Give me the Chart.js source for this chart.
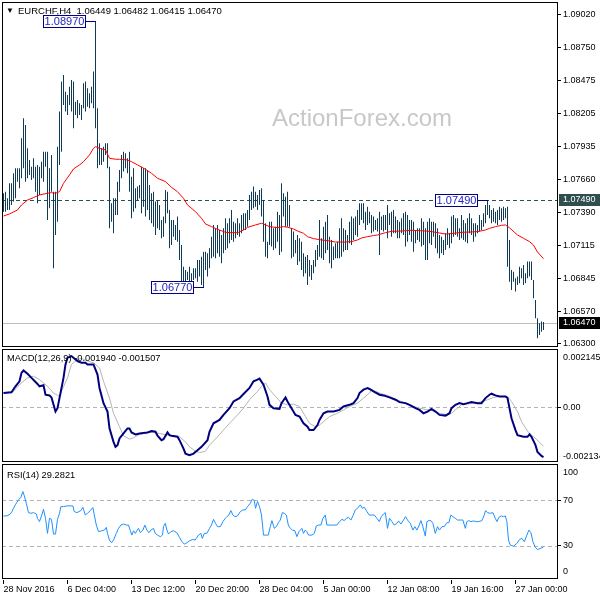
<!DOCTYPE html>
<html><head><meta charset="utf-8">
<script src="https://cdn.jsdelivr.net/npm/chart.js@4.4.0/dist/chart.umd.min.js"></script>
<style>
html,body{margin:0;padding:0;background:#fff;width:600px;height:600px;overflow:hidden}
canvas{position:absolute;left:0}
#c1{top:0}#c2{top:349px}#c3{top:464px}
</style></head><body>
<canvas id="c1" width="600" height="349"></canvas>
<canvas id="c2" width="600" height="115"></canvas>
<canvas id="c3" width="600" height="136"></canvas>
<script>
// ---------- DATA ----------
const symbolTitle = 'EURCHF,H4';
const lastBar = ['1.06449', '1.06482', '1.06415', '1.06470'];
const highs = [
1.07546,1.07559,1.07504,1.07628,1.07628,1.07711,1.07752,1.07752,1.07752,1.08000,
1.08166,1.08111,1.07918,1.07821,1.07766,1.07835,1.07766,1.07780,1.07766,1.07807,
1.07890,1.07890,1.07890,1.07752,1.07863,1.07559,1.07559,1.07931,1.08221,1.08469,
1.08524,1.08386,1.08359,1.08427,1.08483,1.08469,1.08303,1.08317,1.08290,1.08276,
1.08455,1.08469,1.08414,1.08372,1.08427,1.08552,1.08970,1.08248,1.07959,1.07918,
1.07931,1.07959,1.07959,1.07766,1.07463,1.07504,1.07504,1.07642,1.07739,1.07863,
1.07890,1.07876,1.07835,1.07890,1.07683,1.07752,1.07587,1.07601,1.07614,
1.07766,1.07752,1.07752,1.07739,1.07615,1.07546,1.07559,1.07477,1.07490,1.07449,
1.07325,1.07353,1.07573,1.07559,1.07408,1.07325,1.07325,1.07284,1.07353,1.07242,
1.07118,1.06939,1.06912,1.06898,1.06939,1.06884,1.06925,1.06925,1.06994,1.06994,
1.07022,1.07063,1.07063,1.07050,1.07091,1.07187,1.07284,1.07256,1.07284,1.07242,
1.07201,1.07256,1.07339,1.07298,1.07339,1.07408,1.07311,1.07298,1.07339,1.07298,
1.07367,1.07380,1.07380,1.07408,1.07532,1.07559,1.07601,1.07559,1.07532,1.07573,
1.07587,1.07490,1.07298,1.07146,1.07311,1.07311,1.07256,1.07270,1.07394,1.07367,
1.07628,1.07546,1.07518,1.07559,1.07449,1.07256,1.07229,1.07160,1.07201,1.07174,
1.07146,1.07050,1.07022,1.07036,1.06994,1.06953,1.06994,1.07077,1.07118,1.07325,
1.07174,1.07270,1.07311,1.07367,1.07187,1.07160,1.07105,1.07132,1.07146,1.07256,
1.07339,1.07256,1.07243,1.07201,1.07311,1.07353,1.07339,1.07353,1.07408,1.07463,
1.07463,1.07463,1.07394,1.07435,1.07394,1.07367,1.07353,1.07325,1.07339,1.07394,
1.07353,1.07367,1.07367,1.07449,1.07380,1.07394,1.07408,1.07353,1.07325,1.07311,
1.07339,1.07380,1.07394,1.07367,1.07325,1.07325,1.07311,1.07243,1.07256,1.07256,
1.07339,1.07311,1.07256,1.07311,1.07339,1.07311,1.07311,1.07298,1.07256,1.07201,
1.07187,1.07160,1.07215,1.07256,1.07215,1.07353,1.07367,1.07339,1.07339,1.07256,
1.07367,1.07325,1.07298,1.07339,1.07380,1.07339,1.07298,1.07298,1.07284,1.07367,
1.07325,1.07380,1.07449,1.07490,1.07449,1.07408,1.07422,1.07394,1.07408,1.07435,
1.07422,1.07435,1.07422,1.07435,1.07160,1.06912,1.06898,1.06843,1.06857,1.06939,
1.06926,1.06953,1.06884,1.06981,1.06981,1.06981,1.06829,1.06664,1.06512,1.06471,
1.06485,1.06482];
const lows = [
1.07394,1.07394,1.07408,1.07408,1.07449,1.07477,1.07504,1.07642,1.07587,1.07670,
1.07752,1.07642,1.07670,1.07697,1.07656,1.07670,1.07559,1.07463,1.07532,1.07670,
1.07642,1.07766,1.07325,1.07422,1.07559,1.06925,1.07201,1.07311,1.07780,1.07890,
1.08276,1.08221,1.08193,1.08276,1.08221,1.08083,1.08193,1.08166,1.08193,1.08152,
1.08248,1.08221,1.08262,1.08248,1.08290,1.08248,1.08083,1.07752,1.07780,1.07780,
1.07807,1.07863,1.07752,1.07256,1.07311,1.07215,1.07366,1.07366,1.07559,1.07670,
1.07725,1.07752,1.07711,1.07559,1.07339,1.07394,1.07422,1.07490,1.07504,
1.07380,1.07435,1.07353,1.07408,1.07325,1.07298,1.07270,1.07201,1.07256,1.07242,
1.07174,1.07187,1.07298,1.07380,1.07091,1.07118,1.07187,1.07160,1.07146,1.06994,
1.06801,1.06815,1.06788,1.06829,1.06801,1.06815,1.06829,1.06843,1.06815,1.06857,
1.06788,1.06770,1.06912,1.06857,1.06925,1.07008,1.07022,1.07008,1.07050,1.07022,
1.06967,1.07050,1.07077,1.07091,1.07132,1.07160,1.07146,1.07174,1.07201,1.07187,
1.07215,1.07242,1.07242,1.07270,1.07325,1.07408,1.07422,1.07435,1.07408,1.07449,
1.07353,1.07146,1.07022,1.07008,1.07118,1.07105,1.07077,1.07091,1.07146,1.07036,
1.07063,1.07353,1.07270,1.07270,1.07270,1.07008,1.07022,1.07050,1.06953,1.06981,
1.06912,1.06857,1.06884,1.06788,1.06857,1.06829,1.06884,1.06939,1.06994,1.07022,
1.07008,1.06994,1.07050,1.07077,1.06967,1.06926,1.06994,1.07008,1.07008,1.07008,
1.07022,1.07063,1.07077,1.07077,1.07132,1.07118,1.07160,1.07201,1.07187,1.07284,
1.07325,1.07298,1.07243,1.07284,1.07298,1.07215,1.07229,1.07243,1.07229,1.07036,
1.07243,1.07229,1.07243,1.07174,1.07284,1.07187,1.07215,1.07215,1.07174,1.07174,
1.07215,1.07201,1.07105,1.07146,1.07201,1.07146,1.07063,1.07132,1.07160,1.07146,
1.07105,1.07118,1.06994,1.06994,1.07132,1.07118,1.07187,1.07091,1.07050,1.07008,
1.07050,1.07036,1.07077,1.07118,1.07091,1.07132,1.07187,1.07201,1.07187,1.07160,
1.07174,1.07160,1.07146,1.07132,1.07215,1.07201,1.07146,1.07187,1.07215,1.07229,
1.07242,1.07270,1.07298,1.07367,1.07339,1.07298,1.07311,1.07298,1.07284,1.07325,
1.07311,1.07325,1.07339,1.06939,1.06815,1.06746,1.06815,1.06733,1.06788,1.06802,
1.06843,1.06788,1.06802,1.06843,1.06857,1.06829,1.06678,1.06512,1.06347,1.06374,
1.06402,1.06415];
const maX = [0,3,7,9,12,15,18,22,24,26,28,30,33,35,38,40,43,45,46,48,51,53,56,58,62,64,67,71,74,77,81,84,87,90,92,96,99,101,104,107,111,114,117,120,122,126,129,131,133,137,140,142,145,147,150,152,155,159,162,166,171,174,177,179,182,185,187,191,194,199,204,208,211,214,217,221,224,229,234,237,241,243,246,249,251,253,257,260,263,265,267,270];
const maY = [1.07358,1.07375,1.07408,1.07449,1.07490,1.07510,1.07532,1.07546,1.07551,1.07546,1.07559,1.07628,1.07697,1.07747,1.07780,1.07807,1.07863,1.07918,1.07931,1.07918,1.07904,1.07835,1.07827,1.07827,1.07821,1.07807,1.07780,1.07744,1.07711,1.07670,1.07642,1.07595,1.07559,1.07504,1.07449,1.07394,1.07339,1.07292,1.07270,1.07248,1.07223,1.07220,1.07220,1.07242,1.07264,1.07284,1.07298,1.07284,1.07270,1.07262,1.07270,1.07265,1.07251,1.07234,1.07215,1.07187,1.07171,1.07160,1.07154,1.07143,1.07143,1.07146,1.07160,1.07176,1.07187,1.07196,1.07201,1.07220,1.07231,1.07234,1.07240,1.07237,1.07234,1.07229,1.07220,1.07209,1.07212,1.07223,1.07226,1.07229,1.07242,1.07256,1.07270,1.07281,1.07284,1.07260,1.07201,1.07174,1.07146,1.07118,1.07060,1.07005];
const macdX = [0,4,6,8,9,10,12,14,17,18,20,21,23,24,26,27,28,30,31,32,34,36,37,39,41,42,45,47,48,50,52,53,55,56,57,58,60,62,63,64,66,68,72,74,76,77,79,80,82,83,84,87,88,90,91,93,95,97,99,102,103,105,108,110,113,115,118,120,123,125,127,128,130,132,133,135,138,139,141,142,144,146,148,150,152,153,155,157,158,160,162,165,168,170,173,175,177,178,180,182,183,185,188,190,193,196,198,201,203,206,208,210,212,214,216,218,221,223,224,226,228,230,232,234,237,239,241,243,244,246,248,249,251,252,253,254,256,257,260,262,263,264,266,267,269,270];
const macdY = [0.000549,0.000575,0.000810,0.001006,0.001334,0.001426,0.001295,0.001138,0.000902,0.000810,0.000849,0.000483,0.000457,0.000378,-0.000172,-0.000040,0.000352,0.001138,0.001661,0.001923,0.001988,0.001857,0.001792,0.001727,0.001727,0.001661,0.001661,0.001268,0.000745,0.000156,-0.000172,-0.000826,-0.001350,-0.001546,-0.001480,-0.001219,-0.001022,-0.000826,-0.000826,-0.000983,-0.001061,-0.001022,-0.000983,-0.000931,-0.000957,-0.001114,-0.001284,-0.001245,-0.000983,-0.001088,-0.001114,-0.001153,-0.001284,-0.001611,-0.001808,-0.001873,-0.001808,-0.001677,-0.001546,-0.001284,-0.000957,-0.000629,-0.000499,-0.000302,-0.000040,0.000221,0.000352,0.000509,0.000745,0.001006,0.001072,0.001111,0.000876,0.000417,0.000090,-0.000040,-0.000067,0.000156,0.000378,0.000221,-0.000040,-0.000302,-0.000368,-0.000629,-0.000761,-0.000891,-0.000891,-0.000695,-0.000499,-0.000237,-0.000172,-0.000172,-0.000106,0.000025,0.000090,0.000156,0.000352,0.000549,0.000679,0.000745,0.000706,0.000614,0.000483,0.000457,0.000378,0.000287,0.000195,0.000156,0.000090,-0.000040,-0.000106,-0.000237,-0.000172,-0.000067,-0.000172,-0.000302,-0.000329,-0.000237,-0.000040,0.000090,0.000156,0.000117,0.000156,0.000195,0.000156,0.000156,0.000352,0.000483,0.000522,0.000457,0.000417,0.000417,0.000417,0.000352,-0.000040,-0.000433,-0.000891,-0.001088,-0.001153,-0.001153,-0.001061,-0.001153,-0.001480,-0.001742,-0.001899,-0.001940];
const sigX = [0,5,8,12,15,18,22,25,28,29,32,34,37,39,42,45,48,50,53,55,58,60,63,65,68,72,75,78,82,85,88,91,93,96,98,101,103,107,110,113,117,120,123,127,129,131,133,136,139,142,145,148,151,153,156,158,161,163,167,170,173,177,180,183,184,186,188,192,195,198,202,205,208,212,215,218,222,224,227,229,232,235,238,242,245,248,252,254,257,259,262,264,267,269,270];
const sigY = [0.000549,0.000614,0.000876,0.001138,0.001203,0.001072,0.000810,0.000549,0.000417,0.000614,0.001138,0.001661,0.001857,0.001897,0.001792,0.001727,0.001530,0.001006,0.000352,-0.000237,-0.000761,-0.001114,-0.001245,-0.001193,-0.001061,-0.000983,-0.000983,-0.001022,-0.001088,-0.001114,-0.001153,-0.001350,-0.001546,-0.001716,-0.001768,-0.001716,-0.001480,-0.001153,-0.000891,-0.000629,-0.000302,-0.000040,0.000287,0.000614,0.000810,0.000941,0.000679,0.000417,0.000156,0.000090,0.000117,0.000025,-0.000368,-0.000629,-0.000761,-0.000695,-0.000499,-0.000368,-0.000237,-0.000106,0.000025,0.000156,0.000352,0.000549,0.000679,0.000614,0.000549,0.000457,0.000352,0.000247,0.000117,0.000025,-0.000040,-0.000106,-0.000145,-0.000237,-0.000302,-0.000237,-0.000040,0.000090,0.000117,0.000156,0.000195,0.000287,0.000378,0.000417,0.000417,0.000221,-0.000172,-0.000564,-0.000931,-0.001088,-0.001284,-0.001454,-0.001507];
const rsiX = [0,1.7,3.4,4.2,5.0,5.9,7.5,8.7,9.7,10.4,11.4,12.5,13.7,15.0,16.4,17.0,18.0,19.0,20.0,21.0,22.0,23.0,24.0,25.0,26.0,27.0,28.0,28.7,30.0,31.7,33.4,34.7,35.4,36.7,37.7,38.7,39.7,40.9,42.0,43.4,44.7,45.4,46.4,47.5,49.2,50.4,51.4,52.0,53.0,54.0,55.0,56.4,57.5,58.7,60.0,61.4,62.5,63.4,64.2,65.0,65.9,66.7,67.5,68.4,69.7,70.7,71.7,72.7,73.7,75.0,75.9,77.0,78.4,79.5,80.0,80.9,81.7,82.5,83.7,85.0,86.7,88.0,89.2,90.4,91.7,93.0,94.7,95.8,96.7,97.5,98.7,99.4,100.4,101.7,103.0,104.0,105.0,106.0,107.0,108.4,109.7,110.9,111.7,112.7,113.7,114.7,115.7,117.0,118.4,119.7,120.9,122.0,123.4,124.4,125.4,126.0,127.0,128.0,129.0,130.0,131.4,132.4,133.4,134.2,135.4,136.4,137.4,138.4,139.4,140.4,141.4,142.4,143.4,144.4,145.7,146.7,147.7,148.4,149.2,150.0,150.9,151.7,152.5,154.2,155.4,156.4,157.5,158.7,159.7,160.9,161.7,163.4,165.0,166.7,168.0,169.2,170.4,171.4,172.5,173.7,174.7,175.9,177.0,178.4,179.4,180.4,181.7,182.9,184.2,185.4,186.7,187.9,188.9,190.0,190.9,192.0,193.0,194.2,195.4,196.7,197.5,198.7,200.0,201.0,202.0,203.4,204.7,205.7,206.7,207.7,208.7,209.7,210.9,211.7,212.7,213.7,214.7,215.9,217.0,218.0,219.2,220.4,221.7,222.7,223.7,224.7,225.9,227.0,228.4,229.7,230.9,231.7,232.7,233.7,235.0,236.4,237.5,239.2,240.4,241.0,242.0,243.4,244.7,245.9,246.7,247.7,248.9,250.0,250.9,251.7,252.5,253.4,255.0,256.7,258.0,259.2,260.4,261.7,262.7,263.7,264.7,265.9,267.0,268.4,269.7,270];
const rsiY = [56.2,56.2,57.9,60.0,62.9,65.9,70.3,72.6,77.6,73.8,67.3,59.1,58.5,59.1,57.9,54.1,51.2,56.2,62.0,54.1,40.9,54.1,53.2,40.3,40.3,53.2,58.5,64.4,64.4,65.0,65.0,65.0,60.0,59.1,60.0,60.9,63.8,57.0,58.5,60.9,63.5,57.0,48.2,42.4,43.2,43.8,46.2,40.9,35.0,32.7,35.0,40.9,45.3,48.2,49.1,48.2,48.2,43.2,39.4,43.2,40.9,43.2,45.3,41.5,43.8,48.2,43.8,41.5,43.8,45.3,40.9,39.4,38.0,39.4,46.8,49.7,43.8,40.3,42.4,43.2,41.5,37.4,33.6,31.5,32.7,34.4,35.6,35.0,37.4,39.4,40.9,36.5,40.9,40.9,45.3,48.2,53.2,49.7,46.8,46.8,51.2,54.1,55.6,57.0,60.9,57.0,55.6,56.2,60.0,61.5,61.5,64.4,67.3,70.9,69.7,62.9,68.8,64.4,57.0,39.4,39.4,39.4,46.8,52.1,45.3,46.8,50.3,52.6,59.1,58.5,57.0,48.2,45.3,43.8,43.2,38.0,42.4,43.8,45.3,40.9,43.8,42.4,39.4,39.4,40.9,47.4,48.2,48.2,54.1,57.0,48.2,48.2,48.2,48.2,51.2,53.2,52.1,54.1,55.0,52.6,56.2,61.5,62.9,65.9,62.9,63.8,60.0,57.0,57.0,57.0,54.1,51.2,55.6,57.9,59.1,45.3,54.1,51.2,48.2,49.7,51.8,49.1,52.6,55.6,52.6,49.7,43.8,46.8,43.8,47.4,52.1,46.8,38.5,51.2,52.1,52.1,49.7,40.9,46.8,43.8,46.8,46.8,50.3,50.3,57.0,55.6,54.1,52.6,52.6,52.6,45.3,51.2,52.1,51.2,51.8,51.2,51.2,52.1,57.0,60.9,59.1,58.5,59.1,54.1,51.2,55.0,56.2,55.6,56.2,51.2,35.0,30.6,29.7,32.1,35.6,36.5,33.6,39.4,43.8,41.5,33.6,28.6,26.8,27.7,28.6,29.3];
const priceTicks = [1.09020,1.08750,1.08475,1.08205,1.07935,1.07660,1.07390,1.07115,1.06845,1.06570,1.06300];
const priceRange = [1.06275, 1.09127];
const macdRange = [-0.002134, 0.002145];
const rsiLevels = [30, 70];
const dateTickIdx = [0,32,64,96,128,160,192,224,256];
const dateLabels = ['28 Nov 2016','6 Dec 04:00','13 Dec 12:00','20 Dec 20:00','28 Dec 04:00','5 Jan 00:00','12 Jan 08:00','19 Jan 16:00','27 Jan 00:00'];
const tags = [{idx:46, price:1.08970, text:'1.08970'}, {idx:100, price:1.06770, text:'1.06770'}, {idx:242, price:1.07490, text:'1.07490'}];
const resistance = 1.07490;
const currentPrice = 1.06470;
const macdTitle = 'MACD(12,26,9) -0.001940 -0.001507';
const rsiTitle = 'RSI(14) 29.2821';
const watermark = 'ActionForex.com';

// ---------- STYLE / SETUP ----------
const FONT = "'Liberation Sans', Arial, sans-serif";
Chart.defaults.font.family = FONT;
Chart.defaults.font.size = 9;
Chart.defaults.color = '#000';
const X_MIN = -0.75, X_MAX = 277.25;

function pts(xs, ys) { return xs.map((x, i) => ({x: x, y: ys[i]})); }
function hidX() { return {type:'linear', min:X_MIN, max:X_MAX, display:false, offset:false, grid:{offset:false}}; }
function yAxis(min, max, ticks, fmt) {
  return {type:'linear', position:'right', min:min, max:max,
    afterBuildTicks: s => { s.ticks = ticks.map(v => ({value:v})); },
    afterFit: s => { s.width = 42; s.paddingTop = 0; s.paddingBottom = 0; },
    grid:{drawOnChartArea:false, drawTicks:true, tickLength:3, color:'#000'},
    border:{display:false},
    ticks:{padding:2, color:'#000', autoSkip:false, font:{size:9, family:FONT}, callback: fmt}};
}
function framePlugin(top, h) {
  return {id:'frame', afterDraw(chart) {
    const c = chart.ctx; c.save(); c.strokeStyle = '#000'; c.lineWidth = 1;
    c.strokeRect(2.5, top + 0.5, 555, h); c.restore(); }};
}
function hline(ctx, a, y, color, dash) {
  const py = Math.round(y) + 0.5;
  ctx.save(); ctx.strokeStyle = color; ctx.lineWidth = 1; ctx.setLineDash(dash);
  ctx.beginPath(); ctx.moveTo(a.left, py); ctx.lineTo(a.right, py); ctx.stroke(); ctx.restore();
}
function txt(ctx, s, x, y, color, size, align) {
  ctx.save(); ctx.fillStyle = color; ctx.font = size + 'px ' + FONT;
  ctx.textAlign = align || 'left'; ctx.textBaseline = 'middle'; ctx.fillText(s, x, y); ctx.restore();
}
const common = {responsive:false, animation:false, devicePixelRatio:1, events:[],
  plugins:{legend:{display:false}, tooltip:{enabled:false}}};

// ---------- PRICE PANEL ----------
new Chart(document.getElementById('c1'), {
  type:'bar',
  data:{datasets:[
    {type:'line', data:pts(maX, maY), borderColor:'#ff0000', borderWidth:1, pointRadius:0, tension:0, order:0},
    {type:'bar', data:highs.map((h, i) => ({x:i, y:[lows[i], h]})), backgroundColor:'#0f3b57', barThickness:1, borderWidth:0, inflateAmount:0, order:1}
  ]},
  options:Object.assign({}, common, {
    layout:{padding:{left:2, right:0, top:2, bottom:2}},
    scales:{x:hidX(), y:yAxis(priceRange[0], priceRange[1], priceTicks, v => Number(v).toFixed(5))}
  }),
  plugins:[{id:'deco',
    beforeDatasetsDraw(chart) {
      const {ctx, chartArea:a, scales:{y}} = chart;
      ctx.save(); ctx.fillStyle = '#c8c8c8'; ctx.font = '24px ' + FONT; ctx.textBaseline = 'alphabetic';
      ctx.fillText(watermark, 272, 126); ctx.restore();
      hline(ctx, a, y.getPixelForValue(resistance), '#2f4f4f', [4, 3]);
      hline(ctx, a, y.getPixelForValue(currentPrice), '#c0c0c0', []);
    },
    afterDatasetsDraw(chart) {
      const {ctx, scales:{x, y}} = chart;
      tags.forEach(t => {
        const bx = x.getPixelForValue(t.idx), by = Math.round(y.getPixelForValue(t.price));
        const w = 43, h = 13, right = Math.round(bx) - 10, left = right - w, top = by - 6;
        ctx.save();
        ctx.fillStyle = '#fff'; ctx.fillRect(left, top, w, h);
        ctx.strokeStyle = '#000080'; ctx.lineWidth = 1; ctx.strokeRect(left + 0.5, top + 0.5, w - 1, h - 1);
        ctx.beginPath(); ctx.moveTo(right, by + 0.5); ctx.lineTo(Math.round(bx), by + 0.5); ctx.stroke();
        ctx.restore();
        txt(ctx, t.text, left + w / 2, top + h / 2 + 0.5, '#2424c0', 11, 'center');
      });
    },
    afterDraw(chart) {
      const {ctx, scales:{y}} = chart;
      txt(ctx, '\u25BC', 6, 11, '#000', 8);
      txt(ctx, symbolTitle + '  ' + lastBar.join(' '), 18, 11, '#000', 9.5);
      [[resistance, '#2f4f4f'], [currentPrice, '#000000']].forEach(([p, bg]) => {
        const t = Math.round(y.getPixelForValue(p)) - 6;
        ctx.save(); ctx.fillStyle = bg; ctx.fillRect(559, t, 41, 12); ctx.restore();
        txt(ctx, p.toFixed(5), 563, t + 6, '#fff', 9);
      });
    }}, framePlugin(2, 344)]
});

// ---------- MACD PANEL ----------
new Chart(document.getElementById('c2'), {
  type:'line',
  data:{datasets:[
    {data:pts(macdX, macdY), borderColor:'#000080', borderWidth:2, pointRadius:0, tension:0, order:0},
    {data:pts(sigX, sigY), borderColor:'#b4b4b4', borderWidth:1, pointRadius:0, tension:0, order:1}
  ]},
  options:Object.assign({}, common, {
    layout:{padding:{left:2, right:0, top:3, bottom:2}},
    scales:{x:hidX(), y:yAxis(macdRange[0], macdRange[1], [0], () => '0.00')}
  }),
  plugins:[{id:'deco2',
    beforeDatasetsDraw(chart) { hline(chart.ctx, chart.chartArea, chart.scales.y.getPixelForValue(0), '#b4b4b4', [4, 3]); },
    afterDraw(chart) {
      const {ctx, chartArea:a} = chart;
      txt(ctx, macdTitle, 7, 9.5, '#000', 9.3);
      txt(ctx, macdRange[1].toFixed(6), 563, a.top + 6, '#000', 9);
      txt(ctx, macdRange[0].toFixed(6), 563, a.bottom - 5, '#000', 9);
    }}, framePlugin(0, 112)]
});

// ---------- RSI PANEL ----------
new Chart(document.getElementById('c3'), {
  type:'line',
  data:{datasets:[{data:pts(rsiX, rsiY), borderColor:'#1e90ff', borderWidth:1, pointRadius:0, tension:0}]},
  options:Object.assign({}, common, {
    layout:{padding:{left:2, right:0, top:2, bottom:0}},
    scales:{
      x:{type:'linear', min:X_MIN, max:X_MAX, position:'bottom', offset:false,
        afterBuildTicks: s => { s.ticks = dateTickIdx.map(v => ({value:v})); },
        afterFit: s => { s.height = 20; s.paddingLeft = 0; s.paddingRight = 0; },
        grid:{drawOnChartArea:false, drawTicks:true, tickLength:4, color:'#000', offset:false},
        border:{display:false},
        ticks:{align:'start', padding:0, maxRotation:0, autoSkip:false, color:'#000', font:{size:9, family:FONT},
          callback:(v, i) => dateLabels[i]}},
      y:yAxis(0, 100, rsiLevels, v => String(v))
    }
  }),
  plugins:[{id:'deco3',
    beforeDatasetsDraw(chart) {
      const {ctx, chartArea:a, scales:{y}} = chart;
      rsiLevels.forEach(l => hline(ctx, a, y.getPixelForValue(l), '#b4b4b4', [4, 3]));
    },
    afterDraw(chart) {
      const {ctx, chartArea:a} = chart;
      txt(ctx, rsiTitle, 7, 11, '#000', 9.3);
      txt(ctx, '100', 563, a.top + 7, '#000', 9);
      txt(ctx, '0', 563, a.bottom - 8, '#000', 9);
    }}, framePlugin(0, 114)]
});
</script>
</body></html>
